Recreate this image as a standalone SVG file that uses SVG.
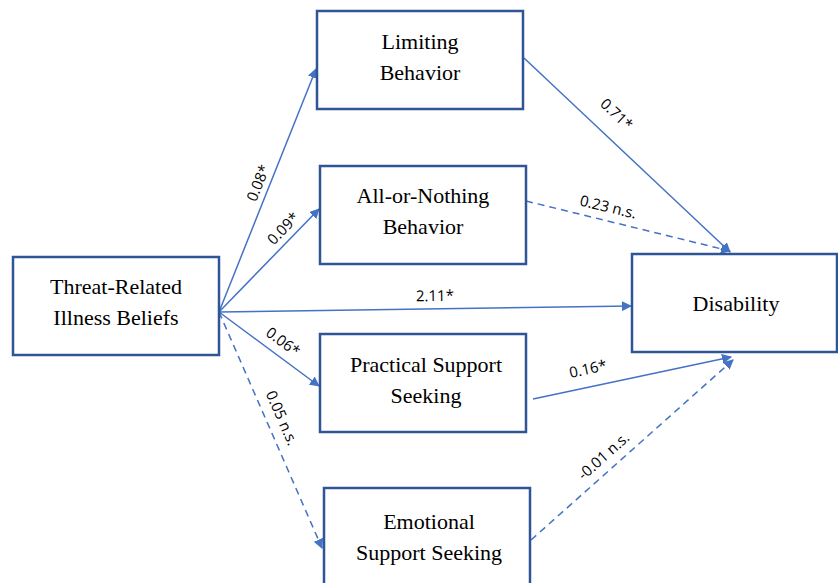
<svg xmlns="http://www.w3.org/2000/svg" width="838" height="583" viewBox="0 0 838 583">
<style>
.box{fill:#fff;stroke:#2F5597;stroke-width:2.5}
.nt{font-family:'Liberation Serif','Times New Roman',serif;font-size:22px;fill:#000;text-anchor:middle}
.ln{stroke:#4472C4;stroke-width:1.5;fill:none;marker-end:url(#ah)}
.ds{stroke-dasharray:7,5}
.lb{font-family:'Open Sans','Liberation Sans',sans-serif;font-size:15px;fill:#000;text-anchor:middle}
</style>
<defs>
<marker id="ah" viewBox="0 0 10 10" refX="9" refY="5" markerWidth="10" markerHeight="10" markerUnits="userSpaceOnUse" orient="auto"><path d="M0,0 L10,5 L0,10 z" fill="#4472C4"/></marker>
</defs>
<rect width="838" height="583" fill="#fff"/>
<g id="connectors">
<line class="ln" x1="219" y1="312" x2="316" y2="69"/>
<line class="ln" x1="219" y1="312" x2="319" y2="209"/>
<line class="ln" x1="219" y1="312" x2="631" y2="306"/>
<line class="ln" x1="219" y1="312" x2="319" y2="386"/>
<line class="ln ds" x1="219" y1="312" x2="322" y2="548"/>
<line class="ln" x1="524" y1="58" x2="730" y2="252"/>
<line class="ln ds" x1="526" y1="201" x2="730" y2="251"/>
<line class="ln" x1="533" y1="399" x2="731" y2="357"/>
<line class="ln ds" x1="531" y1="540" x2="733" y2="360"/>
<text class="lb" transform="translate(263,185) rotate(-68)">0.08*</text>
<text class="lb" transform="translate(287,232) rotate(-46)">0.09*</text>
<text class="lb" transform="translate(435,301) rotate(-0.8)">2.11*</text>
<text class="lb" transform="translate(280,346) rotate(36.5)">0.06*</text>
<text class="lb" transform="translate(277,420) rotate(66.4)">0.05 n.s.</text>
<text class="lb" transform="translate(613,118) rotate(43.4)">0.71*</text>
<text class="lb" transform="translate(607,212) rotate(13.6)">0.23 n.s.</text>
<text class="lb" transform="translate(589,374) rotate(-12)">0.16*</text>
<text class="lb" transform="translate(607,460) rotate(-41.7)">-0.01 n.s.</text>
</g>
<g id="threat"><rect class="box" x="13" y="257" width="206" height="98"/><text class="nt" x="116" y="294">Threat-Related</text><text class="nt" x="116" y="325">Illness Beliefs</text></g>
<g id="limiting"><rect class="box" x="317" y="11" width="206" height="98"/><text class="nt" x="420" y="49">Limiting</text><text class="nt" x="420" y="80">Behavior</text></g>
<g id="allornothing"><rect class="box" x="320" y="166" width="206" height="98"/><text class="nt" x="423" y="203">All-or-Nothing</text><text class="nt" x="423" y="234">Behavior</text></g>
<g id="practical"><rect class="box" x="320" y="334" width="206" height="98"/><text class="nt" x="426" y="372">Practical Support</text><text class="nt" x="426" y="403">Seeking</text></g>
<g id="emotional"><rect class="box" x="324" y="488" width="206" height="98"/><text class="nt" x="429" y="529">Emotional</text><text class="nt" x="429" y="560">Support Seeking</text></g>
<g id="disability"><rect class="box" x="632" y="254" width="205" height="98"/><text class="nt" x="736" y="311">Disability</text></g>
</svg>
